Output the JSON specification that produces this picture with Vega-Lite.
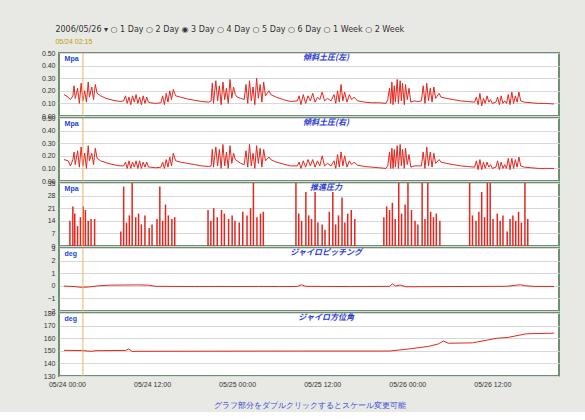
{
  "$schema": "https://vega.github.io/schema/vega-lite/v6.json",
  "background": "#e8e8e4",
  "padding": {"left": 40, "top": 26, "right": 27, "bottom": 2},
  "bounds": "flush",
  "title": {
    "text": "2006/05/26 ▾     ○ 1 Day    ○ 2 Day    ◉ 3 Day    ○ 4 Day    ○ 5 Day    ○ 6 Day    ○ 1 Week   ○ 2 Week",
    "subtitle": "05/24 02:15",
    "anchor": "start",
    "dx": 15,
    "fontSize": 8,
    "fontWeight": "normal",
    "font": "DejaVu Sans",
    "color": "#333333",
    "subtitleFontSize": 7,
    "subtitleColor": "#b8a000",
    "subtitlePadding": 4,
    "offset": 3
  },
  "datasets": {
    "cursor": [{"t": "2006-05-24T02:15"}],
    "labels": [
      {"t": "2006-05-25T12:33", "name": "傾斜土圧(左)", "p": 1, "u": "2006-05-23T23:40", "unit": "Mpa"},
      {"t": "2006-05-25T12:33", "name": "傾斜土圧(右)", "p": 2, "u": "2006-05-23T23:40", "unit": "Mpa"},
      {"t": "2006-05-25T12:33", "name": "推進圧力", "p": 3, "u": "2006-05-23T23:40", "unit": "Mpa"},
      {"t": "2006-05-25T12:33", "name": "ジャイロピッチング", "p": 4, "u": "2006-05-23T23:40", "unit": "deg"},
      {"t": "2006-05-25T12:33", "name": "ジャイロ方位角", "p": 5, "u": "2006-05-23T23:40", "unit": "deg"}
    ],
    "soil": [
      {"t": "2006-05-23T23:35", "L": 0.17, "R": 0.17},
      {"t": "2006-05-24T00:10", "L": 0.15, "R": 0.16},
      {"t": "2006-05-24T00:30", "L": 0.13, "R": 0.12},
      {"t": "2006-05-24T00:50", "L": 0.16, "R": 0.17},
      {"t": "2006-05-24T01:00", "L": 0.24, "R": 0.23},
      {"t": "2006-05-24T01:10", "L": 0.14, "R": 0.13},
      {"t": "2006-05-24T01:30", "L": 0.22, "R": 0.24},
      {"t": "2006-05-24T01:45", "L": 0.10, "R": 0.11},
      {"t": "2006-05-24T02:00", "L": 0.26, "R": 0.27},
      {"t": "2006-05-24T02:15", "L": 0.12, "R": 0.12},
      {"t": "2006-05-24T02:30", "L": 0.20, "R": 0.22},
      {"t": "2006-05-24T02:45", "L": 0.11, "R": 0.10},
      {"t": "2006-05-24T03:00", "L": 0.27, "R": 0.28},
      {"t": "2006-05-24T03:10", "L": 0.15, "R": 0.16},
      {"t": "2006-05-24T03:30", "L": 0.23, "R": 0.22},
      {"t": "2006-05-24T03:45", "L": 0.13, "R": 0.13},
      {"t": "2006-05-24T04:00", "L": 0.25, "R": 0.26},
      {"t": "2006-05-24T04:15", "L": 0.18, "R": 0.18},
      {"t": "2006-05-24T04:45", "L": 0.16, "R": 0.16},
      {"t": "2006-05-24T05:30", "L": 0.14, "R": 0.145},
      {"t": "2006-05-24T06:30", "L": 0.125, "R": 0.13},
      {"t": "2006-05-24T07:30", "L": 0.115, "R": 0.12},
      {"t": "2006-05-24T08:00", "L": 0.12, "R": 0.12},
      {"t": "2006-05-24T08:15", "L": 0.16, "R": 0.15},
      {"t": "2006-05-24T08:30", "L": 0.10, "R": 0.10},
      {"t": "2006-05-24T08:45", "L": 0.15, "R": 0.16},
      {"t": "2006-05-24T09:00", "L": 0.09, "R": 0.10},
      {"t": "2006-05-24T09:15", "L": 0.16, "R": 0.15},
      {"t": "2006-05-24T09:30", "L": 0.11, "R": 0.11},
      {"t": "2006-05-24T09:45", "L": 0.17, "R": 0.16},
      {"t": "2006-05-24T10:00", "L": 0.10, "R": 0.10},
      {"t": "2006-05-24T10:15", "L": 0.15, "R": 0.16},
      {"t": "2006-05-24T10:30", "L": 0.09, "R": 0.10},
      {"t": "2006-05-24T10:45", "L": 0.16, "R": 0.15},
      {"t": "2006-05-24T11:00", "L": 0.10, "R": 0.11},
      {"t": "2006-05-24T11:15", "L": 0.15, "R": 0.15},
      {"t": "2006-05-24T11:30", "L": 0.11, "R": 0.11},
      {"t": "2006-05-24T11:45", "L": 0.105, "R": 0.11},
      {"t": "2006-05-24T12:30", "L": 0.10, "R": 0.105},
      {"t": "2006-05-24T13:15", "L": 0.105, "R": 0.11},
      {"t": "2006-05-24T13:30", "L": 0.16, "R": 0.15},
      {"t": "2006-05-24T13:45", "L": 0.09, "R": 0.10},
      {"t": "2006-05-24T14:00", "L": 0.18, "R": 0.17},
      {"t": "2006-05-24T14:15", "L": 0.11, "R": 0.11},
      {"t": "2006-05-24T14:30", "L": 0.20, "R": 0.19},
      {"t": "2006-05-24T14:45", "L": 0.13, "R": 0.12},
      {"t": "2006-05-24T15:00", "L": 0.21, "R": 0.22},
      {"t": "2006-05-24T15:20", "L": 0.16, "R": 0.16},
      {"t": "2006-05-24T16:00", "L": 0.15, "R": 0.15},
      {"t": "2006-05-24T17:00", "L": 0.135, "R": 0.14},
      {"t": "2006-05-24T18:00", "L": 0.125, "R": 0.13},
      {"t": "2006-05-24T19:00", "L": 0.115, "R": 0.12},
      {"t": "2006-05-24T20:00", "L": 0.11, "R": 0.115},
      {"t": "2006-05-24T20:20", "L": 0.12, "R": 0.12},
      {"t": "2006-05-24T20:30", "L": 0.26, "R": 0.25},
      {"t": "2006-05-24T20:40", "L": 0.10, "R": 0.11},
      {"t": "2006-05-24T21:00", "L": 0.28, "R": 0.27},
      {"t": "2006-05-24T21:15", "L": 0.12, "R": 0.12},
      {"t": "2006-05-24T21:30", "L": 0.24, "R": 0.25},
      {"t": "2006-05-24T21:45", "L": 0.09, "R": 0.10},
      {"t": "2006-05-24T22:00", "L": 0.27, "R": 0.29},
      {"t": "2006-05-24T22:15", "L": 0.13, "R": 0.12},
      {"t": "2006-05-24T22:30", "L": 0.22, "R": 0.23},
      {"t": "2006-05-24T22:45", "L": 0.10, "R": 0.10},
      {"t": "2006-05-24T23:00", "L": 0.29, "R": 0.28},
      {"t": "2006-05-24T23:15", "L": 0.14, "R": 0.14},
      {"t": "2006-05-24T23:30", "L": 0.23, "R": 0.22},
      {"t": "2006-05-24T23:45", "L": 0.17, "R": 0.17},
      {"t": "2006-05-25T00:00", "L": 0.15, "R": 0.16},
      {"t": "2006-05-25T00:30", "L": 0.14, "R": 0.14},
      {"t": "2006-05-25T01:00", "L": 0.13, "R": 0.13},
      {"t": "2006-05-25T01:15", "L": 0.25, "R": 0.24},
      {"t": "2006-05-25T01:30", "L": 0.10, "R": 0.11},
      {"t": "2006-05-25T01:45", "L": 0.28, "R": 0.29},
      {"t": "2006-05-25T02:00", "L": 0.12, "R": 0.12},
      {"t": "2006-05-25T02:15", "L": 0.23, "R": 0.22},
      {"t": "2006-05-25T02:30", "L": 0.09, "R": 0.10},
      {"t": "2006-05-25T02:45", "L": 0.30, "R": 0.28},
      {"t": "2006-05-25T03:00", "L": 0.14, "R": 0.14},
      {"t": "2006-05-25T03:15", "L": 0.25, "R": 0.26},
      {"t": "2006-05-25T03:30", "L": 0.11, "R": 0.11},
      {"t": "2006-05-25T03:45", "L": 0.27, "R": 0.25},
      {"t": "2006-05-25T04:00", "L": 0.16, "R": 0.16},
      {"t": "2006-05-25T04:30", "L": 0.20, "R": 0.19},
      {"t": "2006-05-25T04:45", "L": 0.17, "R": 0.17},
      {"t": "2006-05-25T05:30", "L": 0.15, "R": 0.15},
      {"t": "2006-05-25T06:30", "L": 0.13, "R": 0.135},
      {"t": "2006-05-25T07:30", "L": 0.115, "R": 0.12},
      {"t": "2006-05-25T08:30", "L": 0.12, "R": 0.12},
      {"t": "2006-05-25T08:45", "L": 0.16, "R": 0.15},
      {"t": "2006-05-25T09:00", "L": 0.09, "R": 0.10},
      {"t": "2006-05-25T09:20", "L": 0.17, "R": 0.16},
      {"t": "2006-05-25T09:40", "L": 0.10, "R": 0.11},
      {"t": "2006-05-25T10:00", "L": 0.16, "R": 0.17},
      {"t": "2006-05-25T10:20", "L": 0.12, "R": 0.12},
      {"t": "2006-05-25T10:40", "L": 0.18, "R": 0.17},
      {"t": "2006-05-25T11:00", "L": 0.11, "R": 0.11},
      {"t": "2006-05-25T11:20", "L": 0.15, "R": 0.16},
      {"t": "2006-05-25T11:40", "L": 0.13, "R": 0.12},
      {"t": "2006-05-25T12:00", "L": 0.19, "R": 0.20},
      {"t": "2006-05-25T12:20", "L": 0.12, "R": 0.12},
      {"t": "2006-05-25T12:45", "L": 0.14, "R": 0.14},
      {"t": "2006-05-25T13:15", "L": 0.12, "R": 0.12},
      {"t": "2006-05-25T13:40", "L": 0.17, "R": 0.16},
      {"t": "2006-05-25T13:55", "L": 0.10, "R": 0.10},
      {"t": "2006-05-25T14:10", "L": 0.20, "R": 0.21},
      {"t": "2006-05-25T14:25", "L": 0.11, "R": 0.11},
      {"t": "2006-05-25T14:40", "L": 0.25, "R": 0.23},
      {"t": "2006-05-25T14:55", "L": 0.12, "R": 0.12},
      {"t": "2006-05-25T15:10", "L": 0.19, "R": 0.20},
      {"t": "2006-05-25T15:30", "L": 0.11, "R": 0.11},
      {"t": "2006-05-25T15:50", "L": 0.17, "R": 0.16},
      {"t": "2006-05-25T16:10", "L": 0.13, "R": 0.13},
      {"t": "2006-05-25T16:30", "L": 0.15, "R": 0.15},
      {"t": "2006-05-25T17:00", "L": 0.12, "R": 0.125},
      {"t": "2006-05-25T18:00", "L": 0.11, "R": 0.115},
      {"t": "2006-05-25T19:00", "L": 0.105, "R": 0.11},
      {"t": "2006-05-25T20:00", "L": 0.105, "R": 0.105},
      {"t": "2006-05-25T21:00", "L": 0.10, "R": 0.10},
      {"t": "2006-05-25T21:15", "L": 0.13, "R": 0.12},
      {"t": "2006-05-25T21:30", "L": 0.22, "R": 0.23},
      {"t": "2006-05-25T21:40", "L": 0.10, "R": 0.10},
      {"t": "2006-05-25T21:50", "L": 0.27, "R": 0.26},
      {"t": "2006-05-25T22:00", "L": 0.09, "R": 0.10},
      {"t": "2006-05-25T22:10", "L": 0.24, "R": 0.25},
      {"t": "2006-05-25T22:20", "L": 0.11, "R": 0.11},
      {"t": "2006-05-25T22:35", "L": 0.29, "R": 0.28},
      {"t": "2006-05-25T22:45", "L": 0.10, "R": 0.10},
      {"t": "2006-05-25T23:00", "L": 0.28, "R": 0.29},
      {"t": "2006-05-25T23:10", "L": 0.12, "R": 0.12},
      {"t": "2006-05-25T23:20", "L": 0.26, "R": 0.25},
      {"t": "2006-05-25T23:35", "L": 0.09, "R": 0.10},
      {"t": "2006-05-25T23:45", "L": 0.25, "R": 0.26},
      {"t": "2006-05-26T00:00", "L": 0.13, "R": 0.13},
      {"t": "2006-05-26T00:15", "L": 0.22, "R": 0.21},
      {"t": "2006-05-26T00:30", "L": 0.11, "R": 0.11},
      {"t": "2006-05-26T01:00", "L": 0.12, "R": 0.12},
      {"t": "2006-05-26T01:30", "L": 0.115, "R": 0.12},
      {"t": "2006-05-26T02:00", "L": 0.12, "R": 0.12},
      {"t": "2006-05-26T02:15", "L": 0.24, "R": 0.23},
      {"t": "2006-05-26T02:30", "L": 0.10, "R": 0.10},
      {"t": "2006-05-26T02:45", "L": 0.26, "R": 0.27},
      {"t": "2006-05-26T03:00", "L": 0.12, "R": 0.12},
      {"t": "2006-05-26T03:15", "L": 0.22, "R": 0.23},
      {"t": "2006-05-26T03:30", "L": 0.11, "R": 0.11},
      {"t": "2006-05-26T03:45", "L": 0.23, "R": 0.22},
      {"t": "2006-05-26T04:00", "L": 0.14, "R": 0.14},
      {"t": "2006-05-26T04:30", "L": 0.18, "R": 0.17},
      {"t": "2006-05-26T04:45", "L": 0.15, "R": 0.15},
      {"t": "2006-05-26T05:30", "L": 0.14, "R": 0.14},
      {"t": "2006-05-26T06:30", "L": 0.13, "R": 0.13},
      {"t": "2006-05-26T07:30", "L": 0.12, "R": 0.12},
      {"t": "2006-05-26T08:30", "L": 0.115, "R": 0.115},
      {"t": "2006-05-26T09:30", "L": 0.11, "R": 0.11},
      {"t": "2006-05-26T09:45", "L": 0.15, "R": 0.16},
      {"t": "2006-05-26T10:00", "L": 0.09, "R": 0.09},
      {"t": "2006-05-26T10:15", "L": 0.18, "R": 0.17},
      {"t": "2006-05-26T10:30", "L": 0.08, "R": 0.09},
      {"t": "2006-05-26T10:45", "L": 0.14, "R": 0.15},
      {"t": "2006-05-26T11:00", "L": 0.10, "R": 0.10},
      {"t": "2006-05-26T11:15", "L": 0.16, "R": 0.15},
      {"t": "2006-05-26T11:30", "L": 0.11, "R": 0.11},
      {"t": "2006-05-26T11:45", "L": 0.13, "R": 0.13},
      {"t": "2006-05-26T12:00", "L": 0.10, "R": 0.10},
      {"t": "2006-05-26T12:30", "L": 0.11, "R": 0.11},
      {"t": "2006-05-26T12:45", "L": 0.15, "R": 0.16},
      {"t": "2006-05-26T13:00", "L": 0.09, "R": 0.09},
      {"t": "2006-05-26T13:15", "L": 0.16, "R": 0.15},
      {"t": "2006-05-26T13:30", "L": 0.10, "R": 0.10},
      {"t": "2006-05-26T13:45", "L": 0.12, "R": 0.13},
      {"t": "2006-05-26T14:00", "L": 0.10, "R": 0.10},
      {"t": "2006-05-26T14:15", "L": 0.17, "R": 0.18},
      {"t": "2006-05-26T14:30", "L": 0.09, "R": 0.09},
      {"t": "2006-05-26T14:45", "L": 0.19, "R": 0.18},
      {"t": "2006-05-26T15:00", "L": 0.10, "R": 0.10},
      {"t": "2006-05-26T15:15", "L": 0.16, "R": 0.17},
      {"t": "2006-05-26T15:30", "L": 0.11, "R": 0.11},
      {"t": "2006-05-26T15:45", "L": 0.19, "R": 0.19},
      {"t": "2006-05-26T16:00", "L": 0.12, "R": 0.12},
      {"t": "2006-05-26T16:30", "L": 0.11, "R": 0.11},
      {"t": "2006-05-26T17:30", "L": 0.105, "R": 0.105},
      {"t": "2006-05-26T18:30", "L": 0.10, "R": 0.10},
      {"t": "2006-05-26T19:30", "L": 0.10, "R": 0.10},
      {"t": "2006-05-26T20:42", "L": 0.095, "R": 0.10}
    ],
    "thrust": [
      {"t": "2006-05-24T00:25", "v": 14}, {"t": "2006-05-24T00:50", "v": 22}, {"t": "2006-05-24T01:06", "v": 18},
      {"t": "2006-05-24T01:30", "v": 11}, {"t": "2006-05-24T01:54", "v": 16}, {"t": "2006-05-24T02:18", "v": 22},
      {"t": "2006-05-24T02:36", "v": 20}, {"t": "2006-05-24T03:00", "v": 14}, {"t": "2006-05-24T03:24", "v": 15},
      {"t": "2006-05-24T03:54", "v": 15},
      {"t": "2006-05-24T07:36", "v": 8}, {"t": "2006-05-24T08:00", "v": 33}, {"t": "2006-05-24T08:24", "v": 13},
      {"t": "2006-05-24T08:48", "v": 17}, {"t": "2006-05-24T09:12", "v": 35}, {"t": "2006-05-24T09:42", "v": 16},
      {"t": "2006-05-24T10:06", "v": 18}, {"t": "2006-05-24T10:30", "v": 12}, {"t": "2006-05-24T11:00", "v": 17},
      {"t": "2006-05-24T11:36", "v": 10}, {"t": "2006-05-24T12:00", "v": 12},
      {"t": "2006-05-24T12:42", "v": 15}, {"t": "2006-05-24T13:06", "v": 33}, {"t": "2006-05-24T13:30", "v": 14},
      {"t": "2006-05-24T13:54", "v": 23}, {"t": "2006-05-24T14:18", "v": 17}, {"t": "2006-05-24T14:48", "v": 15},
      {"t": "2006-05-24T15:12", "v": 16},
      {"t": "2006-05-24T19:54", "v": 20}, {"t": "2006-05-24T20:18", "v": 14}, {"t": "2006-05-24T20:42", "v": 21},
      {"t": "2006-05-24T21:12", "v": 16}, {"t": "2006-05-24T21:48", "v": 20}, {"t": "2006-05-24T22:12", "v": 18},
      {"t": "2006-05-24T22:48", "v": 15}, {"t": "2006-05-24T23:18", "v": 17}, {"t": "2006-05-24T23:42", "v": 14},
      {"t": "2006-05-25T00:18", "v": 13}, {"t": "2006-05-25T00:48", "v": 19}, {"t": "2006-05-25T01:24", "v": 17},
      {"t": "2006-05-25T01:54", "v": 21}, {"t": "2006-05-25T02:18", "v": 35}, {"t": "2006-05-25T02:48", "v": 16},
      {"t": "2006-05-25T03:18", "v": 18}, {"t": "2006-05-25T03:42", "v": 19},
      {"t": "2006-05-25T08:18", "v": 35}, {"t": "2006-05-25T08:42", "v": 18}, {"t": "2006-05-25T09:06", "v": 14},
      {"t": "2006-05-25T09:42", "v": 30}, {"t": "2006-05-25T10:06", "v": 17}, {"t": "2006-05-25T10:30", "v": 15},
      {"t": "2006-05-25T11:00", "v": 30}, {"t": "2006-05-25T11:24", "v": 13}, {"t": "2006-05-25T12:00", "v": 12},
      {"t": "2006-05-25T12:24", "v": 9}, {"t": "2006-05-25T13:00", "v": 19}, {"t": "2006-05-25T13:30", "v": 30},
      {"t": "2006-05-25T13:54", "v": 12}, {"t": "2006-05-25T14:18", "v": 17}, {"t": "2006-05-25T14:48", "v": 27},
      {"t": "2006-05-25T15:12", "v": 13}, {"t": "2006-05-25T15:36", "v": 18}, {"t": "2006-05-25T16:06", "v": 20},
      {"t": "2006-05-25T16:36", "v": 15},
      {"t": "2006-05-25T20:42", "v": 16}, {"t": "2006-05-25T21:06", "v": 22}, {"t": "2006-05-25T21:30", "v": 20},
      {"t": "2006-05-25T21:54", "v": 24}, {"t": "2006-05-25T22:18", "v": 15}, {"t": "2006-05-25T22:48", "v": 35},
      {"t": "2006-05-25T23:12", "v": 18}, {"t": "2006-05-25T23:42", "v": 23}, {"t": "2006-05-26T00:06", "v": 35},
      {"t": "2006-05-26T00:36", "v": 20}, {"t": "2006-05-26T01:06", "v": 14}, {"t": "2006-05-26T01:30", "v": 12},
      {"t": "2006-05-26T02:06", "v": 35}, {"t": "2006-05-26T02:30", "v": 15}, {"t": "2006-05-26T02:54", "v": 35},
      {"t": "2006-05-26T03:18", "v": 19}, {"t": "2006-05-26T03:42", "v": 16}, {"t": "2006-05-26T04:06", "v": 18},
      {"t": "2006-05-26T04:36", "v": 14},
      {"t": "2006-05-26T08:48", "v": 35}, {"t": "2006-05-26T09:12", "v": 17}, {"t": "2006-05-26T09:42", "v": 14},
      {"t": "2006-05-26T10:06", "v": 19}, {"t": "2006-05-26T10:30", "v": 30}, {"t": "2006-05-26T10:54", "v": 16},
      {"t": "2006-05-26T11:18", "v": 35}, {"t": "2006-05-26T11:42", "v": 35}, {"t": "2006-05-26T12:06", "v": 15},
      {"t": "2006-05-26T12:42", "v": 18}, {"t": "2006-05-26T13:06", "v": 14}, {"t": "2006-05-26T13:30", "v": 17},
      {"t": "2006-05-26T14:06", "v": 8}, {"t": "2006-05-26T14:30", "v": 15}, {"t": "2006-05-26T14:54", "v": 17},
      {"t": "2006-05-26T15:18", "v": 14}, {"t": "2006-05-26T15:42", "v": 19}, {"t": "2006-05-26T16:06", "v": 13},
      {"t": "2006-05-26T16:36", "v": 35}, {"t": "2006-05-26T17:00", "v": 15}
    ],
    "pitch": [
      {"t": "2006-05-23T23:35", "v": -0.02}, {"t": "2006-05-24T01:00", "v": -0.06}, {"t": "2006-05-24T02:00", "v": -0.12},
      {"t": "2006-05-24T03:00", "v": -0.10}, {"t": "2006-05-24T04:30", "v": 0.0}, {"t": "2006-05-24T06:00", "v": 0.05},
      {"t": "2006-05-24T08:00", "v": 0.06}, {"t": "2006-05-24T10:00", "v": 0.07}, {"t": "2006-05-24T11:30", "v": 0.05},
      {"t": "2006-05-24T12:30", "v": -0.04}, {"t": "2006-05-24T15:00", "v": -0.05}, {"t": "2006-05-24T18:00", "v": -0.06},
      {"t": "2006-05-24T21:00", "v": -0.05}, {"t": "2006-05-25T00:00", "v": -0.06}, {"t": "2006-05-25T03:00", "v": -0.05},
      {"t": "2006-05-25T06:00", "v": -0.06}, {"t": "2006-05-25T08:30", "v": -0.05}, {"t": "2006-05-25T09:05", "v": 0.08},
      {"t": "2006-05-25T09:40", "v": -0.04}, {"t": "2006-05-25T12:00", "v": -0.05}, {"t": "2006-05-25T16:00", "v": -0.06},
      {"t": "2006-05-25T20:00", "v": -0.05}, {"t": "2006-05-25T21:30", "v": -0.04}, {"t": "2006-05-25T21:55", "v": 0.15},
      {"t": "2006-05-25T22:20", "v": -0.02}, {"t": "2006-05-25T23:00", "v": 0.06}, {"t": "2006-05-25T23:50", "v": -0.08},
      {"t": "2006-05-26T02:00", "v": -0.07}, {"t": "2006-05-26T06:00", "v": -0.06}, {"t": "2006-05-26T10:00", "v": -0.05},
      {"t": "2006-05-26T14:00", "v": -0.04}, {"t": "2006-05-26T15:30", "v": 0.06}, {"t": "2006-05-26T16:00", "v": 0.08},
      {"t": "2006-05-26T16:40", "v": 0.0}, {"t": "2006-05-26T18:00", "v": -0.05}, {"t": "2006-05-26T20:42", "v": -0.05}
    ],
    "azim": [
      {"t": "2006-05-23T23:35", "v": 150.4}, {"t": "2006-05-24T02:06", "v": 150.2}, {"t": "2006-05-24T03:24", "v": 149.6},
      {"t": "2006-05-24T04:06", "v": 150.1}, {"t": "2006-05-24T08:18", "v": 150.3}, {"t": "2006-05-24T08:42", "v": 151.5},
      {"t": "2006-05-24T09:12", "v": 149.5}, {"t": "2006-05-24T09:54", "v": 149.6}, {"t": "2006-05-24T19:18", "v": 149.7},
      {"t": "2006-05-25T09:06", "v": 149.8}, {"t": "2006-05-25T21:30", "v": 149.8}, {"t": "2006-05-26T00:18", "v": 151.5},
      {"t": "2006-05-26T03:00", "v": 153.5}, {"t": "2006-05-26T04:24", "v": 155.5}, {"t": "2006-05-26T05:06", "v": 157.8},
      {"t": "2006-05-26T05:48", "v": 156.0}, {"t": "2006-05-26T09:12", "v": 156.3}, {"t": "2006-05-26T11:18", "v": 158.5},
      {"t": "2006-05-26T12:42", "v": 160.0}, {"t": "2006-05-26T14:06", "v": 160.5}, {"t": "2006-05-26T16:48", "v": 163.5},
      {"t": "2006-05-26T20:42", "v": 164.0}
    ]
  },
  "spacing": 2,
  "resolve": {"scale": {"x": "shared"}},
  "vconcat": [
    {
      "width": 500, "height": 63,
      "layer": [
        {
          "data": {"name": "soil"},
          "mark": {"type": "line", "color": "#e3261e", "strokeWidth": 1},
          "encoding": {
            "x": {"field": "t", "type": "temporal", "axis": null, "scale": {"nice": false}},
            "y": {"field": "L", "type": "quantitative", "scale": {"domain": [0, 0.5]}, "axis": {"values": [0, 0.1, 0.2, 0.3, 0.4, 0.5], "format": ".2f", "title": null}}
          }
        },
        {
          "data": {"name": "cursor"},
          "mark": {"type": "rule", "color": "#f0b060", "strokeWidth": 1},
          "encoding": {"x": {"field": "t", "type": "temporal", "axis": null}}
        },
        {
          "data": {"name": "labels"},
          "transform": [{"filter": "datum.p == 1"}],
          "mark": {"type": "text", "font": "Noto Sans CJK JP", "fontSize": 8, "fontStyle": "italic", "fontWeight": "bold", "color": "#2d3ad6", "baseline": "top", "dy": 1},
          "encoding": {"x": {"field": "t", "type": "temporal", "axis": null}, "y": {"datum": 0.5, "axis": {"values": [0, 0.1, 0.2, 0.3, 0.4, 0.5], "format": ".2f", "title": null}}, "text": {"field": "name"}}
        },
        {
          "data": {"name": "labels"},
          "transform": [{"filter": "datum.p == 1"}],
          "mark": {"type": "text", "fontSize": 7, "fontWeight": "bold", "color": "#1a3fe0", "baseline": "top", "align": "left", "dy": 2},
          "encoding": {"x": {"field": "u", "type": "temporal", "axis": null}, "y": {"datum": 0.5, "axis": {"values": [0, 0.1, 0.2, 0.3, 0.4, 0.5], "format": ".2f", "title": null}}, "text": {"field": "unit"}}
        }
      ]
    },
    {
      "width": 500, "height": 63,
      "layer": [
        {
          "data": {"name": "soil"},
          "mark": {"type": "line", "color": "#e3261e", "strokeWidth": 1},
          "encoding": {
            "x": {"field": "t", "type": "temporal", "axis": null},
            "y": {"field": "R", "type": "quantitative", "scale": {"domain": [0, 0.5]}, "axis": {"values": [0, 0.1, 0.2, 0.3, 0.4, 0.5], "format": ".2f", "title": null}}
          }
        },
        {
          "data": {"name": "cursor"},
          "mark": {"type": "rule", "color": "#f0b060", "strokeWidth": 1},
          "encoding": {"x": {"field": "t", "type": "temporal", "axis": null}}
        },
        {
          "data": {"name": "labels"},
          "transform": [{"filter": "datum.p == 2"}],
          "mark": {"type": "text", "font": "Noto Sans CJK JP", "fontSize": 8, "fontStyle": "italic", "fontWeight": "bold", "color": "#2d3ad6", "baseline": "top", "dy": 1},
          "encoding": {"x": {"field": "t", "type": "temporal", "axis": null}, "y": {"datum": 0.5, "axis": {"values": [0, 0.1, 0.2, 0.3, 0.4, 0.5], "format": ".2f", "title": null}}, "text": {"field": "name"}}
        },
        {
          "data": {"name": "labels"},
          "transform": [{"filter": "datum.p == 2"}],
          "mark": {"type": "text", "fontSize": 7, "fontWeight": "bold", "color": "#1a3fe0", "baseline": "top", "align": "left", "dy": 2},
          "encoding": {"x": {"field": "u", "type": "temporal", "axis": null}, "y": {"datum": 0.5, "axis": {"values": [0, 0.1, 0.2, 0.3, 0.4, 0.5], "format": ".2f", "title": null}}, "text": {"field": "unit"}}
        }
      ]
    },
    {
      "width": 500, "height": 63,
      "layer": [
        {
          "data": {"name": "thrust"},
          "mark": {"type": "bar", "color": "#e3261e", "size": 1.5},
          "encoding": {
            "x": {"field": "t", "type": "temporal", "axis": null},
            "y": {"field": "v", "type": "quantitative", "scale": {"domain": [0, 35]}, "axis": {"values": [0, 7, 14, 21, 28, 35], "title": null}}
          }
        },
        {
          "data": {"name": "cursor"},
          "mark": {"type": "rule", "color": "#f0b060", "strokeWidth": 1},
          "encoding": {"x": {"field": "t", "type": "temporal", "axis": null}}
        },
        {
          "data": {"name": "labels"},
          "transform": [{"filter": "datum.p == 3"}],
          "mark": {"type": "text", "font": "Noto Sans CJK JP", "fontSize": 8, "fontStyle": "italic", "fontWeight": "bold", "color": "#2d3ad6", "baseline": "top", "dy": 1},
          "encoding": {"x": {"field": "t", "type": "temporal", "axis": null}, "y": {"datum": 35, "axis": {"values": [0, 7, 14, 21, 28, 35], "title": null}}, "text": {"field": "name"}}
        },
        {
          "data": {"name": "labels"},
          "transform": [{"filter": "datum.p == 3"}],
          "mark": {"type": "text", "fontSize": 7, "fontWeight": "bold", "color": "#1a3fe0", "baseline": "top", "align": "left", "dy": 2},
          "encoding": {"x": {"field": "u", "type": "temporal", "axis": null}, "y": {"datum": 35, "axis": {"values": [0, 7, 14, 21, 28, 35], "title": null}}, "text": {"field": "unit"}}
        }
      ]
    },
    {
      "width": 500, "height": 63,
      "layer": [
        {
          "data": {"name": "pitch"},
          "mark": {"type": "line", "color": "#e3261e", "strokeWidth": 1},
          "encoding": {
            "x": {"field": "t", "type": "temporal", "axis": null},
            "y": {"field": "v", "type": "quantitative", "scale": {"domain": [-2, 3]}, "axis": {"values": [-2, -1, 0, 1, 2, 3], "title": null}}
          }
        },
        {
          "data": {"name": "cursor"},
          "mark": {"type": "rule", "color": "#f0b060", "strokeWidth": 1},
          "encoding": {"x": {"field": "t", "type": "temporal", "axis": null}}
        },
        {
          "data": {"name": "labels"},
          "transform": [{"filter": "datum.p == 4"}],
          "mark": {"type": "text", "font": "Noto Sans CJK JP", "fontSize": 8, "fontStyle": "italic", "fontWeight": "bold", "color": "#2d3ad6", "baseline": "top", "dy": 1},
          "encoding": {"x": {"field": "t", "type": "temporal", "axis": null}, "y": {"datum": 3, "axis": {"values": [-2, -1, 0, 1, 2, 3], "title": null}}, "text": {"field": "name"}}
        },
        {
          "data": {"name": "labels"},
          "transform": [{"filter": "datum.p == 4"}],
          "mark": {"type": "text", "fontSize": 7, "fontWeight": "bold", "color": "#1a3fe0", "baseline": "top", "align": "left", "dy": 2},
          "encoding": {"x": {"field": "u", "type": "temporal", "axis": null}, "y": {"datum": 3, "axis": {"values": [-2, -1, 0, 1, 2, 3], "title": null}}, "text": {"field": "unit"}}
        }
      ]
    },
    {
      "width": 500, "height": 63,
      "layer": [
        {
          "data": {"name": "azim"},
          "mark": {"type": "line", "color": "#e3261e", "strokeWidth": 1},
          "encoding": {
            "x": {
              "field": "t", "type": "temporal",
              "axis": {
                "tickCount": 6,
                "format": "%m/%d %H:%M",
                "labelFontSize": 7, "labelColor": "#333333",
                "grid": false, "domain": false, "ticks": false, "labelPadding": 4,
                "title": "グラフ部分をダブルクリックするとスケール変更可能",
                "titleColor": "#3a4ad8", "titleFontSize": 8, "titleFontWeight": "normal",
                "titlePadding": 14
              }
            },
            "y": {"field": "v", "type": "quantitative", "scale": {"domain": [130, 180]}, "axis": {"values": [130, 140, 150, 160, 170, 180], "title": null}}
          }
        },
        {
          "data": {"name": "cursor"},
          "mark": {"type": "rule", "color": "#f0b060", "strokeWidth": 1},
          "encoding": {"x": {"field": "t", "type": "temporal"}}
        },
        {
          "data": {"name": "labels"},
          "transform": [{"filter": "datum.p == 5"}],
          "mark": {"type": "text", "font": "Noto Sans CJK JP", "fontSize": 8, "fontStyle": "italic", "fontWeight": "bold", "color": "#2d3ad6", "baseline": "top", "dy": 1},
          "encoding": {"x": {"field": "t", "type": "temporal"}, "y": {"datum": 180, "axis": {"values": [130, 140, 150, 160, 170, 180], "title": null}}, "text": {"field": "name"}}
        },
        {
          "data": {"name": "labels"},
          "transform": [{"filter": "datum.p == 5"}],
          "mark": {"type": "text", "fontSize": 7, "fontWeight": "bold", "color": "#1a3fe0", "baseline": "top", "align": "left", "dy": 2},
          "encoding": {"x": {"field": "u", "type": "temporal"}, "y": {"datum": 180, "axis": {"values": [130, 140, 150, 160, 170, 180], "title": null}}, "text": {"field": "unit"}}
        }
      ]
    }
  ],
  "config": {
    "view": {"stroke": "#6f8f73", "strokeWidth": 2, "fill": "white"},
    "axisY": {
      "labelFontSize": 7, "labelColor": "#333333", "grid": true, "gridColor": "#d8d8d8", "domain": false, "ticks": false,
      "labelPadding": 4
    }
  }
}
